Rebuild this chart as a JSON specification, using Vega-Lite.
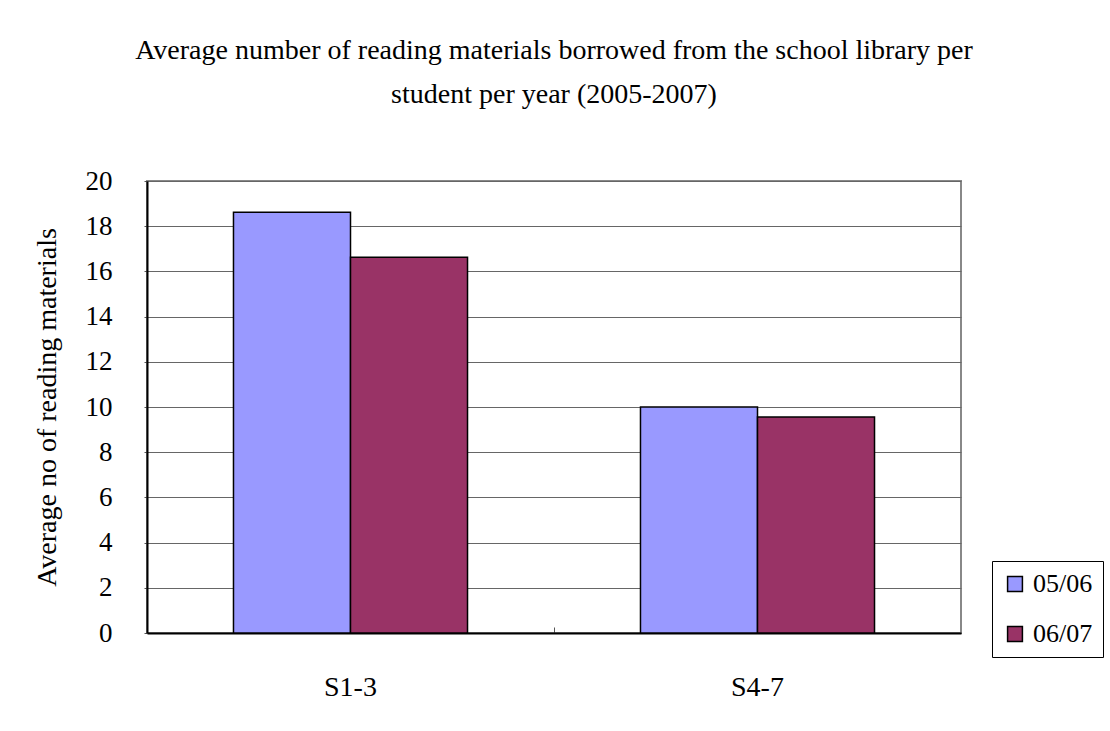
{
  "$schema": "https://vega.github.io/schema/vega-lite/v6.json",
  "autosize": {"type": "none"},
  "width": 814,
  "height": 452,
  "padding": {"left": 147, "top": 181, "right": 149, "bottom": 98},
  "background": "white",
  "title": {
    "text": ["Average number of reading materials borrowed from the school library per", "student per year (2005-2007)"],
    "anchor": "middle",
    "font": "Liberation Serif",
    "fontSize": 28,
    "fontWeight": "normal",
    "lineHeight": 44,
    "color": "black",
    "offset": 58
  },
  "data": {
    "values": [
      {"group": "S1-3", "year": "05/06", "value": 18.62},
      {"group": "S1-3", "year": "06/07", "value": 16.63},
      {"group": "S4-7", "year": "05/06", "value": 10.0},
      {"group": "S4-7", "year": "06/07", "value": 9.56}
    ]
  },
  "mark": {"type": "bar", "stroke": "black", "strokeWidth": 1.5},
  "encoding": {
    "x": {
      "field": "group",
      "type": "nominal",
      "scale": {"paddingInner": 0, "paddingOuter": 0},
      "axis": {
        "title": null,
        "labelAngle": 0,
        "labelFont": "Liberation Serif",
        "labelFontSize": 28,
        "labelColor": "black",
        "labelPadding": 46,
        "bandPosition": 0,
        "tickSize": -6,
        "tickColor": "#555",
        "domainColor": "black",
        "domainWidth": 2
      }
    },
    "xOffset": {
      "field": "year",
      "type": "nominal",
      "scale": {"paddingInner": 0, "paddingOuter": 0.739}
    },
    "y": {
      "field": "value",
      "type": "quantitative",
      "scale": {"domain": [0, 20], "nice": false},
      "axis": {
        "title": "Average no of reading materials",
        "titleFont": "Liberation Serif",
        "titleFontSize": 28,
        "titleFontWeight": "normal",
        "titleColor": "black",
        "titlePadding": 24,
        "values": [0, 2, 4, 6, 8, 10, 12, 14, 16, 18, 20],
        "labelFont": "Liberation Serif",
        "labelFontSize": 27,
        "labelColor": "black",
        "labelPadding": 32,
        "tickSize": 3,
        "tickColor": "#555",
        "grid": true,
        "gridColor": "#666",
        "gridWidth": 1,
        "domainColor": "black",
        "domainWidth": 2
      }
    },
    "color": {
      "field": "year",
      "type": "nominal",
      "scale": {"domain": ["05/06", "06/07"], "range": ["#9999FF", "#993366"]},
      "legend": {
        "title": null,
        "orient": "none",
        "legendX": 845,
        "legendY": 380,
        "symbolType": "square",
        "symbolSize": 220,
        "symbolStrokeColor": "black",
        "symbolStrokeWidth": 1.5,
        "labelFont": "Liberation Serif",
        "labelFontSize": 26,
        "labelColor": "black",
        "labelOffset": 5,
        "rowPadding": 24,
        "padding": 10,
        "strokeColor": "black",
        "fillColor": "white"
      }
    }
  },
  "config": {
    "view": {"stroke": "#888", "strokeWidth": 2}
  }
}
